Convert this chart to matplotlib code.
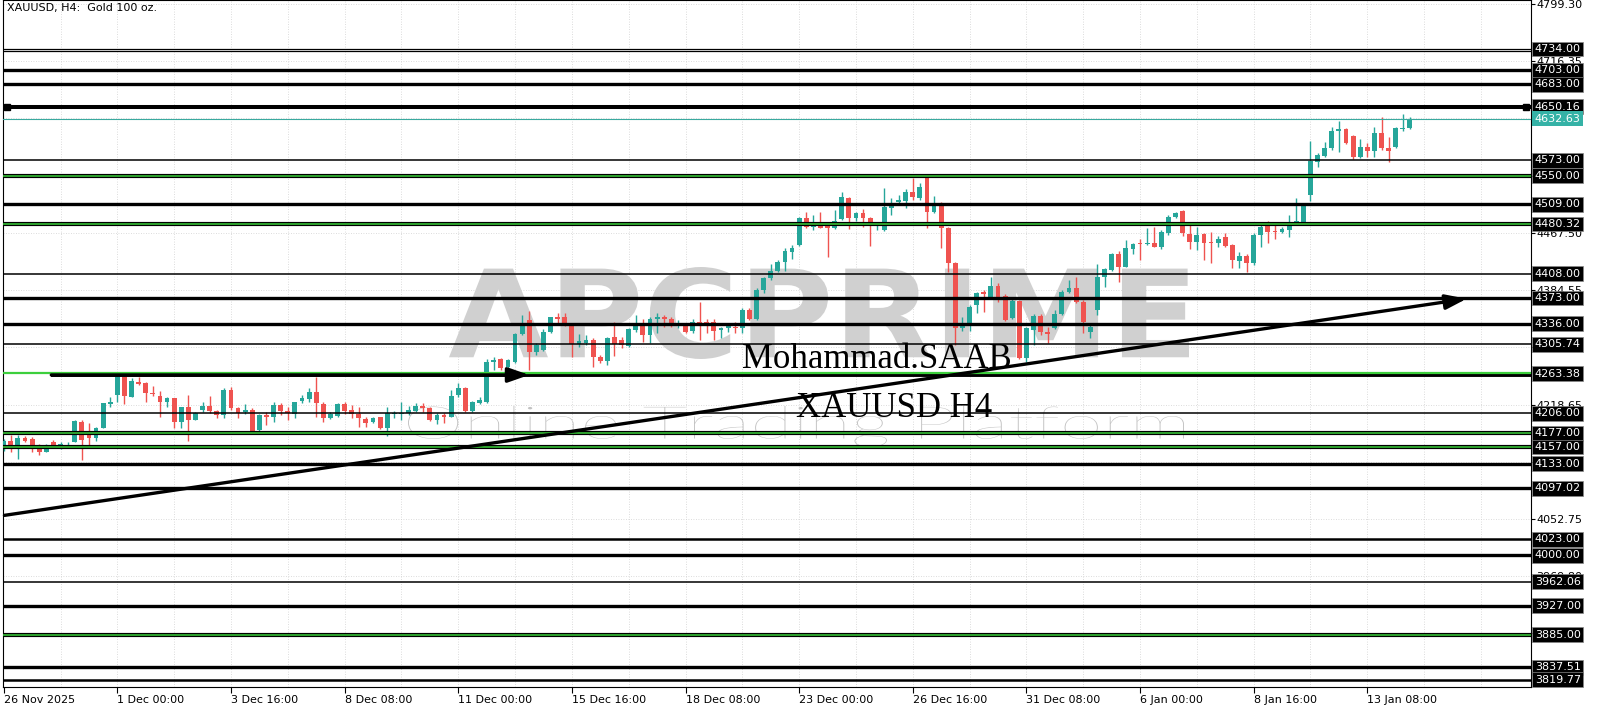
import numpy as np
import matplotlib
matplotlib.use('Agg')
import matplotlib.pyplot as plt
from matplotlib.transforms import blended_transform_factory, Affine2D
from matplotlib.textpath import TextPath
from matplotlib.patches import PathPatch
from matplotlib.font_manager import FontProperties

# XAUUSD H4 candles (bar 0 = 26 Nov 2025)
opens = [
    4160.0, 4165.7, 4157.5, 4169.6, 4168.2, 4157.5, 4150.3, 4163.8, 4159.0, 4162.4,
    4164.8, 4193.8, 4178.3, 4169.6, 4185.1, 4218.9, 4232.4, 4259.0, 4230.0, 4251.7,
    4249.3, 4235.8, 4231.4, 4221.8, 4227.6, 4193.8, 4214.5, 4196.2, 4210.7, 4216.9,
    4209.2, 4203.4, 4240.1, 4213.1, 4208.3, 4210.7, 4181.7, 4203.4, 4201.0, 4217.9,
    4209.7, 4204.9, 4223.7, 4226.1, 4236.3, 4219.4, 4198.6, 4202.5, 4219.4, 4210.7,
    4204.9, 4197.1, 4193.8, 4200.0, 4184.1, 4204.4, 4204.9, 4205.8, 4209.7, 4216.5,
    4213.1, 4196.2, 4203.4, 4201.0, 4232.4, 4242.1, 4209.7, 4221.3, 4222.7, 4280.7,
    4284.1, 4272.5, 4280.7, 4320.3, 4341.1, 4295.2, 4297.6, 4323.2, 4345.0, 4345.0,
    4333.9, 4306.3, 4307.3, 4312.1, 4287.0, 4282.2, 4316.0, 4312.1, 4303.4, 4326.6,
    4336.3, 4319.4, 4342.1, 4345.9, 4342.1, 4333.9, 4334.8, 4325.7, 4338.7, 4337.7,
    4337.7, 4326.6, 4329.0, 4331.4, 4330.0, 4355.6, 4342.6, 4384.6, 4401.5, 4412.1,
    4424.7, 4440.2, 4449.8, 4488.5, 4476.4, 4481.2, 4479.8, 4474.0, 4487.5, 4518.4,
    4488.5, 4495.7, 4489.5, 4478.8, 4471.6, 4504.0, 4512.6, 4513.6, 4527.1, 4517.5,
    4548.9, 4498.2, 4507.8, 4474.0, 4423.3, 4330.0, 4333.9, 4362.9, 4381.2, 4374.9,
    4390.9, 4376.4, 4343.5, 4368.7, 4286.5, 4326.6, 4347.4, 4324.2, 4329.0, 4349.3,
    4382.2, 4387.1, 4367.8, 4324.3, 4355.7, 4403.0, 4413.7, 4436.9, 4418.5, 4443.6,
    4453.3, 4451.4, 4453.3, 4447.5, 4467.8, 4490.0, 4499.2, 4465.9, 4454.7, 4465.9,
    4454.7, 4452.3, 4461.0, 4449.9, 4427.2, 4434.0, 4423.3, 4464.4, 4478.9, 4470.7,
    4469.2, 4471.7, 4482.3, 4483.7, 4522.4, 4570.7, 4578.9, 4590.0, 4615.6, 4617.6,
    4607.9, 4577.0, 4592.4, 4586.7, 4611.8, 4591.0, 4591.5, 4617.6, 4619.0]
highs = [
    4168.0, 4174.4, 4174.4, 4173.0, 4172.0, 4160.9, 4160.9, 4167.2, 4163.8, 4164.0,
    4196.2, 4196.2, 4191.3, 4186.5, 4220.3, 4229.0, 4261.4, 4261.4, 4256.6, 4258.0,
    4251.7, 4246.0, 4238.2, 4230.0, 4228.6, 4215.5, 4232.4, 4208.3, 4222.7, 4231.4,
    4210.7, 4242.1, 4244.5, 4215.5, 4218.9, 4213.1, 4204.4, 4208.3, 4222.7, 4220.3,
    4215.5, 4222.7, 4232.4, 4242.1, 4259.0, 4222.7, 4208.3, 4220.3, 4222.7, 4217.9,
    4215.5, 4201.0, 4201.0, 4201.0, 4215.5, 4209.2, 4222.7, 4216.5, 4220.3, 4220.3,
    4215.5, 4205.8, 4205.8, 4239.6, 4249.3, 4243.5, 4224.2, 4230.0, 4284.1, 4288.0,
    4285.5, 4284.1, 4322.8, 4348.4, 4354.6, 4307.3, 4327.6, 4345.9, 4351.7, 4350.8,
    4336.3, 4320.8, 4319.4, 4314.5, 4290.4, 4317.0, 4338.7, 4317.0, 4329.0, 4348.4,
    4342.1, 4345.0, 4350.8, 4348.4, 4345.0, 4341.1, 4336.3, 4342.1, 4367.7, 4342.1,
    4342.1, 4331.4, 4336.3, 4338.7, 4358.0, 4358.0, 4387.0, 4403.9, 4421.8, 4428.1,
    4445.0, 4449.8, 4490.9, 4498.2, 4493.3, 4498.2, 4481.2, 4500.6, 4526.2, 4519.9,
    4498.2, 4502.0, 4490.9, 4483.7, 4532.0, 4517.5, 4522.3, 4531.0, 4546.5, 4539.2,
    4551.3, 4521.0, 4511.7, 4476.4, 4424.7, 4345.9, 4362.9, 4382.2, 4384.6, 4403.9,
    4394.3, 4378.3, 4372.5, 4370.1, 4331.4, 4349.3, 4349.3, 4331.4, 4355.6, 4384.6,
    4399.1, 4404.0, 4370.2, 4333.9, 4422.4, 4416.1, 4438.8, 4441.7, 4457.2, 4452.3,
    4458.1, 4475.0, 4476.5, 4471.7, 4493.4, 4498.2, 4500.6, 4480.4, 4475.5, 4467.8,
    4469.2, 4462.9, 4466.8, 4451.4, 4440.2, 4436.9, 4466.8, 4478.9, 4485.2, 4478.9,
    4476.5, 4493.4, 4517.6, 4510.3, 4601.1, 4583.8, 4599.7, 4620.5, 4630.1, 4619.0,
    4609.4, 4603.1, 4597.3, 4620.5, 4635.9, 4607.0, 4620.5, 4639.8, 4635.0]
lows = [
    4152.0, 4150.3, 4139.6, 4163.8, 4150.3, 4145.4, 4149.3, 4155.1, 4153.7, 4160.0,
    4163.8, 4138.2, 4159.0, 4165.7, 4184.1, 4214.5, 4222.7, 4218.9, 4229.0, 4246.9,
    4222.7, 4231.4, 4201.0, 4215.5, 4185.1, 4185.1, 4165.7, 4196.0, 4208.3, 4205.8,
    4198.6, 4198.6, 4210.7, 4198.6, 4204.4, 4178.3, 4180.2, 4188.9, 4193.8, 4203.4,
    4196.2, 4198.6, 4220.3, 4222.7, 4201.0, 4193.8, 4197.6, 4201.0, 4204.4, 4199.6,
    4186.5, 4186.5, 4192.3, 4183.1, 4173.0, 4198.6, 4196.2, 4203.4, 4208.2, 4208.2,
    4195.2, 4190.4, 4191.3, 4200.0, 4229.0, 4208.2, 4208.2, 4219.4, 4220.3, 4268.6,
    4268.6, 4268.6, 4279.3, 4319.4, 4268.6, 4290.4, 4296.7, 4321.8, 4336.3, 4332.4,
    4287.0, 4302.5, 4304.9, 4273.5, 4278.3, 4275.9, 4288.9, 4300.0, 4302.5, 4324.2,
    4309.7, 4308.3, 4322.8, 4331.5, 4330.5, 4329.0, 4321.8, 4321.8, 4312.1, 4321.8,
    4312.1, 4314.5, 4324.2, 4321.8, 4321.8, 4341.1, 4341.1, 4379.8, 4399.1, 4411.2,
    4412.1, 4429.5, 4448.9, 4475.0, 4471.6, 4474.0, 4432.9, 4473.0, 4486.1, 4473.0,
    4484.6, 4476.4, 4448.9, 4471.6, 4470.1, 4493.3, 4508.8, 4503.0, 4515.1, 4515.1,
    4474.0, 4495.7, 4446.0, 4411.2, 4304.9, 4325.2, 4325.2, 4350.8, 4353.0, 4372.5,
    4367.0, 4339.7, 4342.6, 4284.6, 4280.7, 4304.9, 4319.4, 4307.3, 4328.1, 4348.4,
    4379.8, 4365.3, 4321.9, 4314.6, 4348.4, 4389.5, 4412.7, 4396.8, 4417.5, 4436.9,
    4428.2, 4449.9, 4446.5, 4443.6, 4464.4, 4488.6, 4462.9, 4443.6, 4442.7, 4428.2,
    4424.3, 4447.5, 4446.5, 4416.1, 4416.1, 4411.3, 4420.9, 4446.5, 4453.3, 4458.1,
    4466.8, 4461.0, 4481.3, 4482.3, 4514.2, 4563.5, 4578.0, 4587.6, 4585.2, 4596.3,
    4574.1, 4575.5, 4577.0, 4577.0, 4587.6, 4570.7, 4590.0, 4615.6, 4617.6]
closes = [
    4165.7, 4157.5, 4169.6, 4166.2, 4157.5, 4149.3, 4157.5, 4159.0, 4160.9, 4163.0,
    4194.7, 4167.2, 4169.6, 4185.1, 4220.3, 4222.7, 4259.0, 4231.0, 4252.7, 4248.4,
    4235.8, 4233.9, 4222.7, 4227.6, 4193.8, 4214.5, 4196.2, 4205.8, 4216.9, 4209.7,
    4203.4, 4240.1, 4213.1, 4205.8, 4210.7, 4180.2, 4203.4, 4201.0, 4217.9, 4209.2,
    4205.8, 4222.7, 4227.6, 4236.3, 4220.3, 4198.6, 4204.4, 4219.4, 4209.7, 4204.4,
    4198.6, 4192.3, 4198.6, 4184.1, 4205.8, 4205.8, 4206.8, 4210.7, 4216.5, 4213.1,
    4196.2, 4203.4, 4201.0, 4231.4, 4242.1, 4209.7, 4221.8, 4225.1, 4280.7, 4283.1,
    4271.1, 4283.1, 4320.8, 4334.8, 4295.2, 4304.9, 4324.2, 4345.0, 4342.1, 4333.9,
    4306.3, 4311.2, 4312.1, 4287.0, 4282.2, 4314.5, 4306.3, 4304.9, 4327.6, 4336.3,
    4319.4, 4342.1, 4345.9, 4342.1, 4333.9, 4335.3, 4324.2, 4338.7, 4333.9, 4334.8,
    4325.7, 4329.0, 4332.4, 4329.0, 4355.6, 4342.6, 4384.6, 4401.5, 4412.1, 4425.7,
    4441.1, 4446.0, 4488.5, 4476.4, 4481.2, 4475.0, 4474.0, 4484.6, 4519.9, 4488.5,
    4495.7, 4488.5, 4483.7, 4481.2, 4505.4, 4510.2, 4515.1, 4527.1, 4519.9, 4534.4,
    4498.2, 4507.8, 4474.0, 4423.3, 4330.0, 4333.9, 4360.4, 4379.8, 4378.3, 4390.9,
    4372.5, 4341.1, 4368.7, 4286.5, 4329.0, 4347.4, 4324.2, 4320.3, 4349.3, 4382.2,
    4388.0, 4367.8, 4338.8, 4331.5, 4403.0, 4414.6, 4436.9, 4418.5, 4445.1, 4450.9,
    4451.4, 4453.3, 4447.5, 4469.2, 4490.9, 4495.8, 4466.8, 4454.7, 4464.4, 4453.3,
    4452.3, 4458.1, 4448.5, 4428.2, 4434.0, 4423.3, 4464.4, 4476.5, 4469.2, 4468.3,
    4472.6, 4482.8, 4485.2, 4509.3, 4571.7, 4580.4, 4590.0, 4615.6, 4617.6, 4597.3,
    4577.0, 4592.4, 4586.7, 4611.8, 4591.0, 4586.7, 4619.0, 4619.0, 4632.63]

# every 16 bars
date_labels = ['26 Nov 2025', '1 Dec 00:00', '3 Dec 16:00', '8 Dec 08:00', '11 Dec 00:00',
               '15 Dec 16:00', '18 Dec 08:00', '23 Dec 00:00', '26 Dec 16:00',
               '31 Dec 08:00', '6 Jan 00:00', '8 Jan 16:00', '13 Jan 08:00']

# horizontal levels drawn on the chart
level_prices = [4734.00, 4703.00, 4683.00, 4650.16, 4573.00, 4550.00, 4509.00, 4480.32,
                4408.00, 4373.00, 4336.00, 4305.74, 4263.38, 4206.00, 4177.00, 4157.00,
                4133.00, 4097.02, 4023.00, 4000.00, 3962.06, 3927.00, 3885.00, 3837.51,
                3819.77]
level_kinds = ['double', 'thick', 'thick', 'heavy', 'thin', 'green', 'thick', 'green',
               'thin', 'thick', 'thick', 'thin', 'green2', 'thin', 'green', 'green',
               'thick', 'thick', 'medium', 'thick', 'thin', 'thick', 'green', 'thick',
               'medium']
bid_price = 4632.63

# price scale grid (MT4 step)
scale_top = 4799.30
scale_step = 82.95

# trend arrows: (bar, price) start -> end
trend_start = (0.1, 4058.0)
trend_end = (206.0, 4372.0)
short_start = (6.7, 4261.5)
short_end = (74.0, 4261.5)

GREEN_C = '#26a69a'
RED_C = '#ef5350'

o = np.array(opens); h = np.array(highs); l = np.array(lows); c = np.array(closes)
x = np.arange(len(o))
col = np.where(c >= o, GREEN_C, RED_C)

fig = plt.figure(figsize=(16, 7.11), dpi=100)
ax = fig.add_axes([3 / 1600, 24 / 711, 1528 / 1600, 687 / 711])
ax.set_xlim(-0.1, 215.05)
ax.set_ylim(3809.2, 4805.0)


def path_text(s, prop, box, color):
    # box = (left, right, top, bottom) in image pixels
    tp = TextPath((0, 0), s, size=100, prop=prop)
    ext = tp.get_extents()
    x0, x1, top, bottom = box
    sx = (x1 - x0) / ext.width
    sy = (bottom - top) / ext.height
    tr = Affine2D().translate(-ext.x0, -ext.y0).scale(sx, sy).translate(x0, 711 - bottom)
    p = PathPatch(tp, transform=tr, fc=color, ec='none', zorder=1)
    ax.add_artist(p)


# watermark
path_text('APCPRIME', FontProperties(family='DejaVu Sans', weight='bold'),
          (449, 1189, 267, 359), '#d0d0d0')
path_text('Online Trading Platform', FontProperties(family='Lato', weight='light'),
          (408, 1184, 406, 447), '#c2c2c2')

# grid
grid_vals = [scale_top - scale_step * k for k in range(12)]
for gv in grid_vals:
    ax.axhline(gv, color='#d0d0d0', lw=0.6, ls=(0, (1, 2)), zorder=0.5)
for gx in range(8, 216, 8):
    ax.axvline(gx, color='#d0d0d0', lw=0.6, ls=(0, (1, 2)), zorder=0.5)

# candles
ax.vlines(x, l, h, colors=col, lw=1.0, zorder=4)
body = np.maximum(np.abs(c - o), 1.2)
ax.bar(x, body, bottom=np.minimum(o, c), width=0.68, color=col, lw=0, zorder=5)

# levels
for p, k in zip(level_prices, level_kinds):
    if k == 'double':
        ax.axhline(p, color='black', lw=0.9, zorder=6)
        ax.axhline(p - 2.6, color='black', lw=0.9, zorder=6)
    elif k == 'thin':
        ax.axhline(p, color='black', lw=1.1, zorder=6)
    elif k == 'medium':
        ax.axhline(p, color='black', lw=1.8, zorder=6)
    elif k == 'thick':
        ax.axhline(p, color='black', lw=2.4, zorder=6)
    elif k == 'heavy':
        ax.axhline(p, color='black', lw=2.9, zorder=6)
        ax.plot([0.4, 214.4], [p, p], 's', color='black', ms=4.5, zorder=7, clip_on=False)
    elif k == 'green':
        ax.axhline(p, color='black', lw=3.0, zorder=6)
        ax.axhline(p, color='#3ccf3c', lw=1.1, zorder=6.1)
    elif k == 'green2':
        ax.hlines(p - 1.8, 6.7, 215.05, color='black', lw=2.8, zorder=6)
        ax.axhline(p + 0.6, color='#3ccf3c', lw=1.6, zorder=6.1)

ax.axhline(bid_price, color='#3aa99f', lw=0.8, zorder=6)

# arrows
ax.annotate('', xy=trend_end, xytext=trend_start, zorder=8,
            arrowprops=dict(arrowstyle='-|>,head_length=0.8,head_width=0.28', color='black',
                            lw=2.4, shrinkA=0, shrinkB=0, mutation_scale=16))
ax.annotate('', xy=short_end, xytext=short_start, zorder=8,
            arrowprops=dict(arrowstyle='-|>,head_length=0.8,head_width=0.28', color='black',
                            lw=2.4, shrinkA=0, shrinkB=0, mutation_scale=16))

# texts
ax.text(0.0026, 0.9956, 'XAUUSD, H4:  Gold 100 oz.', transform=ax.transAxes,
        ha='left', va='top', fontsize=8, color='black', zorder=9)
ax.text(0.572, 0.477, 'Mohammad.SAAB', transform=ax.transAxes, ha='center', va='center',
        fontsize=25, family='Liberation Serif', color='black', zorder=9)
ax.text(0.583, 0.406, 'XAUUSD H4', transform=ax.transAxes, ha='center', va='center',
        fontsize=25, family='Liberation Serif', color='black', zorder=9)

# axes
for s in ax.spines.values():
    s.set_color('black')
    s.set_linewidth(0.8)
ax.set_xticks(np.arange(0, 16 * len(date_labels), 16))
ax.set_xticklabels(date_labels, ha='left', fontsize=8)
ax.tick_params(axis='x', direction='out', length=4, width=0.8, pad=2)
ax.yaxis.tick_right()
ax.set_yticks(grid_vals)
ax.set_yticklabels([f'{v:.2f}' for v in grid_vals], fontsize=8)
ax.tick_params(axis='y', direction='out', length=3, width=0.8, pad=1)

# level labels on the price scale
tr = blended_transform_factory(ax.transAxes, ax.transData)
for p in level_prices:
    ax.text(1.0025, p, f'{p:.2f}', transform=tr, ha='left', va='center', fontsize=8,
            color='white', clip_on=False, zorder=10,
            bbox=dict(boxstyle='square,pad=0.22', fc='black', ec='#888888', lw=0.5))
ax.text(1.0025, bid_price, f'{bid_price:.2f}', transform=tr, ha='left', va='center',
        fontsize=8, color='white', clip_on=False, zorder=10,
        bbox=dict(boxstyle='square,pad=0.22', fc='#35b2a6', ec='none'))

fig.savefig('out.png', dpi=100, facecolor='white')
